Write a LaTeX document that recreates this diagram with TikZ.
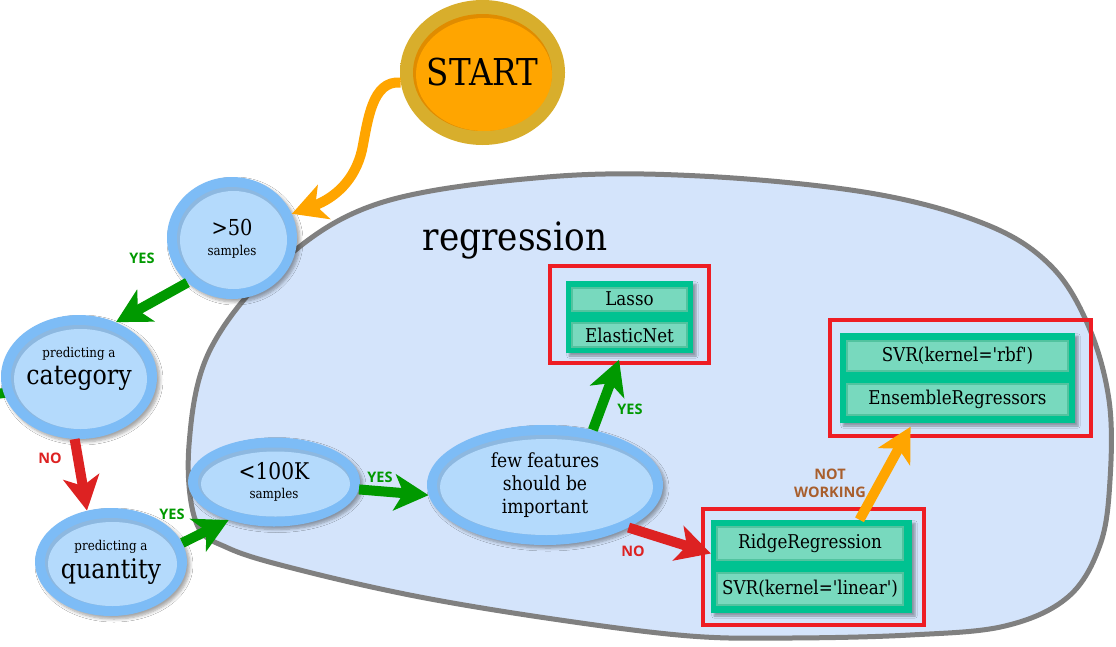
\documentclass[tikz,border=0pt]{standalone}
\usepackage{fontspec}
\setmainfont{DejaVu Serif}[FakeStretch=0.88, Ligatures=TeXOff]
\newfontfamily\tagfont{Open Sans}
\usetikzlibrary{shapes.geometric,arrows.meta,shadows,shadows.blur}

\definecolor{ringblue}{HTML}{7DBCF6}
\definecolor{innerblue}{HTML}{B4DAFC}
\definecolor{innershade}{HTML}{8DB8E0}
\definecolor{blobfill}{HTML}{D4E4FB}
\definecolor{blobline}{HTML}{808080}
\definecolor{goldlight}{HTML}{E4BD3A}
\definecolor{goldmid}{HTML}{D8AE2C}
\definecolor{golddark}{HTML}{C9A033}
\definecolor{startorange}{HTML}{FFA500}
\definecolor{startshade}{HTML}{E08C00}
\definecolor{boxgreen}{HTML}{00C291}
\definecolor{cellfill}{HTML}{78D9BE}
\definecolor{cellrim}{HTML}{52C39F}
\definecolor{framered}{HTML}{EE1D24}
\definecolor{flowgreen}{HTML}{009900}
\definecolor{flowred}{HTML}{DD2222}
\definecolor{floworange}{HTML}{FFA500}
\definecolor{nwbrown}{HTML}{A85E2C}

\pgfdeclareradialshading{goldring}{\pgfpoint{0bp}{0bp}}{color(0bp)=(goldmid); color(41bp)=(goldmid); color(44bp)=(goldlight); color(47bp)=(goldlight); color(50bp)=(golddark)}

\tikzset{
  bubble/.style 2 args={shape=ellipse, inner sep=0pt, minimum width=#1, minimum height=#2,
    fill=ringblue, align=center, text=black,
    blur shadow={shadow xshift=3pt, shadow yshift=-3pt, shadow blur steps=6,
      shadow blur radius=3pt, shadow opacity=35},
    path picture={
      \fill[innershade] (path picture bounding box.center)
        ellipse [x radius={(#1)/2-10pt}, y radius={(#2)/2-10pt}];
      \fill[innerblue] ([shift={(1.5pt,-2pt)}]path picture bounding box.center)
        ellipse [x radius={(#1)/2-11.5pt}, y radius={(#2)/2-12pt}];
    }},
  startnode/.style={shape=ellipse, inner sep=0pt, minimum width=165pt, minimum height=145pt,
    shading=goldring, font=\fontsize{37}{37}\selectfont,
    path picture={
      \fill[startshade] (path picture bounding box.center)
        ellipse [x radius=69.5pt, y radius=58.5pt];
      \fill[startorange] ([shift={(1.5pt,-2pt)}]path picture bounding box.center)
        ellipse [x radius=68pt, y radius=56.5pt];
    }},
  greenbox/.style={rectangle, inner sep=0pt, fill=boxgreen,
    blur shadow={shadow xshift=3pt, shadow yshift=-3pt, shadow blur steps=5, shadow opacity=35}},
  cell/.style={rectangle, inner sep=0pt, fill=cellfill, draw=cellrim, line width=2pt,
    font=\fontsize{19}{22}\selectfont},
  redframe/.style={rectangle, inner sep=0pt, draw=framered, line width=4pt},
  flow/.style={line width=10pt, -{Stealth[length=34pt, width=36pt, inset=9pt]}},
  tag/.style={font=\tagfont\bfseries\fontsize{14.5}{18}\selectfont, inner sep=0pt, align=center},
  blob/.style={fill=blobfill, draw=blobline, line width=5pt},
}

\begin{document}
\begin{tikzpicture}[x=1pt,y=-1pt]
\useasboundingbox (0,0) rectangle (1116,646);
\fill[white] (0,0) rectangle (1116,646);
\clip (0,0) rectangle (1116,646);

% regression region
\draw[blob] plot[smooth cycle, tension=0.6] coordinates {
  (189,445) (210,350) (280,263) (380,203) (547,177) (700,176)
  (870,193) (985,224) (1050,265) (1088,325) (1109,400) (1110,480) (1100,545)
  (1068,597) (1005,626) (910,635) (790,638) (690,636) (560,620) (420,597)
  (300,570) (228,548) (196,522)};
\node[font=\fontsize{39}{39}\selectfont] (regtitle) at (515,240) {regression};

% branch leaving the category node to the left
\coordinate (stubin) at (20,391);
\coordinate (stubout) at (-12,395);
\draw[line width=10pt, flowgreen] (stubin) -- (stubout);

% decision nodes
\node[startnode] (start) at (482.5,72.5) {START};
\node[bubble={130pt}{122pt}, font=\fontsize{13.5}{20}\selectfont, text depth=1pt] (n50) at (232,238)
  {{\fontsize{22}{22}\selectfont >50}\\samples};
\node[bubble={156pt}{124pt}, font=\fontsize{13.5}{27}\selectfont, text depth=22pt] (cat) at (79,377)
  {predicting a\\{\fontsize{27}{27}\selectfont category}};
\node[bubble={152pt}{108pt}, font=\fontsize{13.5}{28}\selectfont] (qty) at (111,562)
  {predicting a\\{\fontsize{27}{27}\selectfont quantity}};
\node[bubble={172pt}{89pt}, font=\fontsize{13.5}{19}\selectfont] (k100) at (274,482)
  {{\fontsize{23}{23}\selectfont <100K}\\samples};
\node[bubble={236pt}{120pt}, font=\fontsize{19.5}{23}\selectfont] (few) at (545,485)
  {few features\\should be\\important};

% estimator groups
\node[redframe, minimum width=159pt, minimum height=97pt] (lassogrp) at (629.5,314.5) {};
\node[greenbox, minimum width=127pt, minimum height=72pt] (lassobox) at (629.5,317) {};
\node[cell, minimum width=115pt, minimum height=23pt] (lasso) at (629.5,299) {Lasso};
\node[cell, minimum width=115pt, minimum height=24pt] (elastic) at (629.5,335) {ElasticNet};

\node[redframe, minimum width=261pt, minimum height=116pt] (rbfgrp) at (960.5,378) {};
\node[greenbox, minimum width=235pt, minimum height=90pt] (rbfbox) at (957.5,378) {};
\node[cell, minimum width=221pt, minimum height=30pt] (rbf) at (957.5,356) {SVR(kernel='rbf')};
\node[cell, minimum width=221pt, minimum height=31pt] (ensemble) at (957.5,399.5) {EnsembleRegressors};

\node[redframe, minimum width=221pt, minimum height=116pt] (ridgegrp) at (813.5,567) {};
\node[greenbox, minimum width=201pt, minimum height=93pt] (ridgebox) at (811.5,566.5) {};
\node[cell, minimum width=186pt, minimum height=33pt] (ridge) at (810,543.5) {RidgeRegression};
\node[cell, minimum width=186pt, minimum height=32pt] (linear) at (810,589) {SVR(kernel='linear')};

% connectors
\draw[flow, floworange] (start.187) .. controls (372,80) and (368,120) .. (362,150)
  .. controls (355,180) and (335,198) .. (n50.22);
\draw[flow, flowgreen] (n50.225) -- (cat.56);
\draw[flow, flowred] (cat.266) -- (qty.115);
\draw[flow, flowgreen] (qty.15) -- (k100.220);
\draw[flow, flowgreen] (k100.355) -- (few.185);
\draw[flow, flowgreen, shorten >=7pt] (few.49) -- ([xshift=-8pt]lassobox.south);
\draw[flow, flowred] (few.-27) -- ([yshift=13pt]ridgebox.west);
\draw[flow, floworange, shorten >=4pt] ([xshift=48pt]ridgebox.north) -- ([xshift=-45pt]rbfbox.south);

% connector labels
\node[tag, text=flowgreen] (yes1) at (142,258) {YES};
\node[tag, text=flowred] (no1) at (50,458) {NO};
\node[tag, text=flowgreen] (yes2) at (172,514) {YES};
\node[tag, text=flowgreen] (yes3) at (380,477) {YES};
\node[tag, text=flowgreen] (yes4) at (630,409) {YES};
\node[tag, text=flowred] (no2) at (633,551) {NO};
\node[tag, text=nwbrown] (notworking) at (830,483) {NOT\\WORKING};
\end{tikzpicture}
\end{document}
